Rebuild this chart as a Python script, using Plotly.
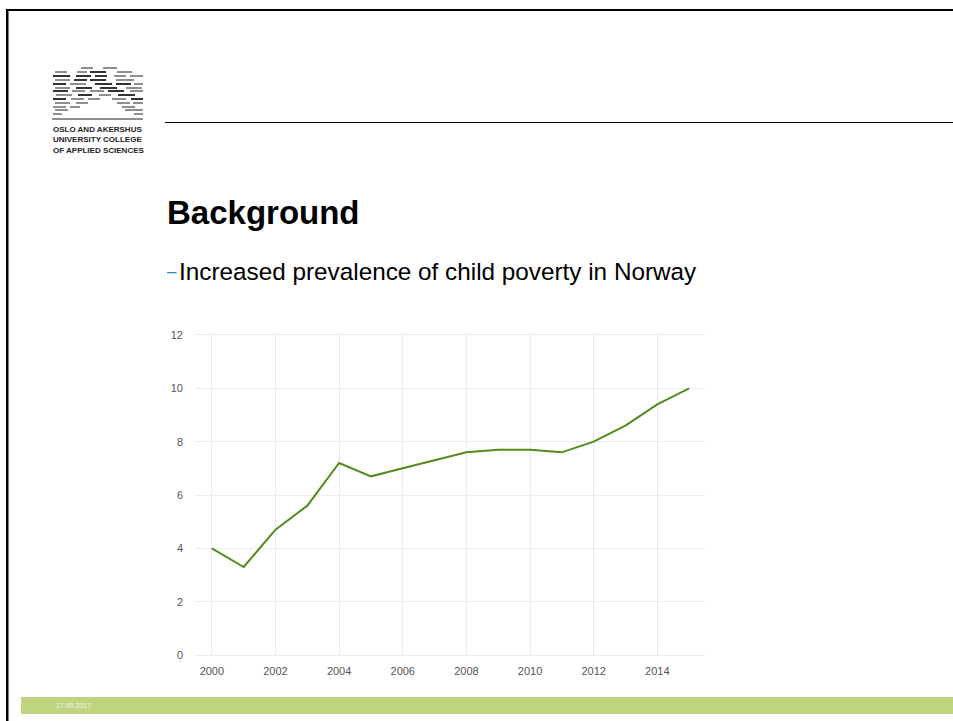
import plotly.graph_objects as go

years = [2000, 2001, 2002, 2003, 2004, 2005, 2006, 2007, 2008, 2009, 2010, 2011, 2012, 2013, 2014, 2015]
poverty = [4.0, 3.3, 4.7, 5.6, 7.2, 6.7, 7.0, 7.3, 7.6, 7.7, 7.7, 7.6, 8.0, 8.6, 9.4, 10.0]
x_ticks = [2000, 2002, 2004, 2006, 2008, 2010, 2012, 2014]
y_ticks = [0, 2, 4, 6, 8, 10, 12]

W, H = 953, 721
L, R, T, B = 195, 705, 335, 655

def px(x):
    return (x - L) / (R - L)

def py(y):
    return (B - y) / (B - T)

fig = go.Figure()
fig.add_trace(go.Scatter(x=years, y=poverty, mode="lines",
                         line=dict(color="#558b1e", width=2), hoverinfo="x+y"))

shapes = []
# slide border
shapes.append(dict(type="rect", xref="paper", yref="paper", x0=px(6), x1=px(960), y0=py(9), y1=py(11),
                   fillcolor="#000", line=dict(width=0), layer="above"))
shapes.append(dict(type="rect", xref="paper", yref="paper", x0=px(6), x1=px(8.5), y0=py(9), y1=py(730),
                   fillcolor="#000", line=dict(width=0), layer="above"))
# header rule
shapes.append(dict(type="line", xref="paper", yref="paper", x0=px(165), x1=px(960), y0=py(122.5), y1=py(122.5),
                   line=dict(color="#000", width=1)))
# footer bar
shapes.append(dict(type="rect", xref="paper", yref="paper", x0=px(21), x1=px(960), y0=py(697), y1=py(714),
                   fillcolor="#bfd47f", line=dict(width=0)))

# logo stripes (decoration)
logo_rows = [
    (68, [(81, 93, 'g'), (103, 117, 'g')]),
    (72, [(55, 67, 'g'), (77, 87, 'g'), (90, 106, 'd'), (117, 132, 'g')]),
    (76, [(53, 70, 'd'), (76, 91, 'd'), (95, 107, 'd'), (114, 126, 'g'), (130, 143, 'g')]),
    (80, [(55, 70, 'g'), (74, 87, 'd'), (90, 106, 'd'), (116, 134, 'g')]),
    (84, [(53, 66, 'd'), (70, 86, 'g'), (95, 112, 'd'), (116, 131, 'd'), (134, 143, 'g')]),
    (88, [(55, 70, 'g'), (76, 92, 'd'), (100, 117, 'd'), (126, 142, 'g')]),
    (91, [(53, 68, 'd'), (72, 85, 'g'), (90, 104, 'g'), (108, 124, 'd'), (130, 143, 'g')]),
    (95, [(56, 72, 'g'), (78, 92, 'd'), (99, 111, 'g'), (118, 135, 'd')]),
    (99, [(53, 66, 'd'), (71, 84, 'g'), (88, 100, 'g'), (112, 126, 'g'), (131, 143, 'd')]),
    (103, [(55, 70, 'g'), (76, 88, 'g'), (117, 130, 'g'), (133, 143, 'g')]),
    (107, [(53, 66, 'g'), (70, 80, 'g'), (122, 135, 'g')]),
    (110, [(55, 68, 'g'), (125, 143, 'g')]),
    (114, [(53, 62, 'g'), (134, 143, 'g')]),
    (119, [(52, 143, 'g')]),
]
for yy, segs in logo_rows:
    for x0, x1, c in segs:
        shapes.append(dict(type="line", xref="paper", yref="paper", x0=px(x0), x1=px(x1), y0=py(yy), y1=py(yy),
                           line=dict(color="#333333" if c == 'd' else "#8f8f8f", width=2)))

annotations = []
def text(x, y, s, size, color="#000", bold=False, xanchor="left"):
    annotations.append(dict(xref="paper", yref="paper", x=px(x), y=py(y), text=("<b>%s</b>" % s) if bold else s,
                            showarrow=False, xanchor=xanchor, yanchor="middle",
                            font=dict(family="Liberation Sans, Arial", size=size, color=color)))

text(51, 129, "OSLO AND AKERSHUS", 8, "#222", True)
text(51, 139.5, "UNIVERSITY COLLEGE", 8, "#222", True)
text(51, 150, "OF APPLIED SCIENCES", 8, "#222", True)
text(165, 212, "Background", 33, "#000", True)
text(165, 271, "–", 17, "#2a8fb8")
text(177, 271, "Increased prevalence of child poverty in Norway", 24.3, "#000")
text(54, 705.5, "17.09.2017", 7, "#f4f7ea")

fig.update_layout(
    width=W, height=H,
    margin=dict(l=L, r=W - R, t=T, b=H - B, pad=0),
    paper_bgcolor="white", plot_bgcolor="white",
    showlegend=False,
    shapes=shapes, annotations=annotations,
    xaxis=dict(range=[1999.47, 2015.5], tickvals=x_ticks, showgrid=True, gridcolor="#e8e8ee", gridwidth=1,
               zeroline=False, showline=True, mirror=True, linecolor="#ebebeb", linewidth=1,
               ticks="", ticklabelstandoff=6,
               tickfont=dict(family="Liberation Sans, Arial", size=11, color="#555")),
    yaxis=dict(range=[0, 12], tickvals=y_ticks, showgrid=True, gridcolor="#ececec", gridwidth=1,
               zeroline=False, showline=False, ticks="", ticklabelstandoff=11,
               tickfont=dict(family="Liberation Sans, Arial", size=11, color="#555")),
)

fig.write_html("out.html", config={"displayModeBar": False})
with open("out.html", "r", encoding="utf-8") as f:
    html = f.read()
html = html.replace("<body>", '<body style="margin:0;overflow:hidden">', 1)
with open("out.html", "w", encoding="utf-8") as f:
    f.write(html)
